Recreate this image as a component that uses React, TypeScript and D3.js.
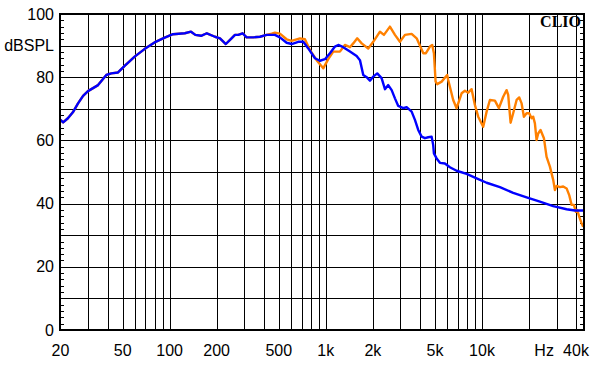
import React from "react";
import * as d3 from "d3";

const blueFreq = [20, 20.8, 22.3, 24, 25.9, 27.9, 30, 34.8, 39.3, 42.3, 46.7, 51.5, 59.7, 69, 80, 93, 105, 125, 137, 146, 159, 173, 195, 210, 229, 249, 262, 275, 293, 311, 343, 379, 418, 472, 508, 561, 604, 666, 717, 772, 852, 917, 987, 1063, 1144, 1201, 1293, 1427, 1575, 1654, 1737, 1826, 1917, 2012, 2134, 2276, 2391, 2510, 2640, 2771, 2909, 3131, 3292, 3544, 3721, 3906, 4106, 4312, 4526, 4759, 4871, 4922, 5123, 5378, 5788, 6230, 6877, 7972, 9236, 10704, 13022, 15840, 19306, 23480, 28580, 34820, 39360, 44460];
const blueDb = [66.5, 65.7, 67.0, 68.9, 71.7, 74.1, 75.6, 77.5, 80.7, 81.2, 81.5, 83.6, 86.5, 88.9, 91.0, 92.5, 93.6, 93.9, 94.4, 93.4, 93.1, 93.9, 92.8, 92.3, 90.5, 92.3, 93.4, 93.4, 93.9, 92.6, 92.6, 92.8, 93.4, 93.4, 92.6, 90.9, 90.5, 91.2, 91.2, 89.1, 86.0, 85.2, 85.7, 87.6, 89.7, 90.2, 89.5, 88.1, 86.7, 85.4, 80.7, 80.0, 78.9, 80.2, 81.2, 79.7, 76.2, 77.5, 75.9, 73.3, 70.9, 70.2, 70.5, 69.1, 66.5, 63.3, 61.2, 60.7, 61.0, 61.2, 58.5, 55.9, 54.3, 52.9, 52.7, 51.5, 50.4, 49.4, 48.0, 46.6, 45.2, 43.4, 42.0, 40.6, 39.2, 38.2, 37.8, 37.8];

const orangeFreq = [20, 20.8, 22.3, 24, 25.9, 27.9, 30, 34.8, 39.3, 42.3, 46.7, 51.5, 59.7, 69, 80, 93, 105, 125, 137, 146, 159, 173, 195, 210, 229, 249, 262, 275, 293, 311, 343, 379, 418, 450, 472, 508, 561, 604, 683, 735, 791, 873, 963, 1036, 1116, 1231, 1325, 1427, 1498, 1589, 1696, 1869, 2012, 2222, 2356, 2574, 2771, 2982, 3211, 3544, 3816, 4210, 4375, 4641, 4800, 4922, 5047, 5169, 5515, 5987, 6077, 6541, 6877, 7406, 7774, 8162, 8580, 9009, 9458, 10180, 10704, 11238, 12098, 12832, 13670, 14374, 14716, 15246, 15840, 16660, 17314, 17936, 18552, 19306, 20060, 20780, 21280, 21820, 22360, 22900, 23720, 24920, 25920, 27220, 28580, 29300, 30040, 31540, 33120, 34820, 36180, 37480, 38780, 39940, 40700, 41920, 43420, 44460];
const orangeDb = [66.5, 65.7, 67.0, 68.9, 71.7, 74.1, 75.6, 77.5, 80.7, 81.2, 81.5, 83.6, 86.5, 88.9, 91.0, 92.5, 93.6, 93.9, 94.4, 93.4, 93.1, 93.9, 92.8, 92.3, 90.5, 92.3, 93.4, 93.4, 93.9, 92.6, 92.6, 92.8, 93.4, 93.8, 94.1, 93.8, 92.0, 91.5, 92.3, 92.0, 88.6, 85.4, 82.8, 85.7, 88.1, 88.1, 90.2, 89.5, 90.7, 92.3, 90.7, 89.1, 91.2, 94.4, 93.4, 96.0, 93.4, 91.2, 93.4, 93.7, 92.3, 87.6, 87.6, 89.7, 90.2, 87.6, 78.6, 77.8, 78.6, 80.7, 79.1, 72.8, 70.2, 74.9, 75.7, 75.1, 76.2, 71.2, 67.5, 64.3, 69.1, 72.8, 72.6, 70.2, 73.8, 75.9, 74.4, 65.6, 68.6, 72.8, 73.6, 71.7, 67.5, 68.6, 68.6, 67.0, 67.5, 65.4, 60.1, 62.2, 63.3, 60.7, 54.8, 51.7, 47.5, 44.3, 45.6, 45.2, 45.4, 44.8, 42.7, 39.6, 39.6, 37.4, 38.0, 35.9, 33.8, 32.7];

const xTickValues = [20, 50, 100, 200, 500, 1000, 2000, 5000, 10000, 40000];
const xTickLabels = ["20", "50", "100", "200", "500", "1k", "2k", "5k", "10k", "40k"];
const xGridValues = [30, 40, 50, 60, 70, 80, 90, 100, 200, 300, 400, 500, 600, 700, 800, 900, 1000, 2000, 3000, 4000, 5000, 6000, 7000, 8000, 9000, 10000, 20000, 30000, 40000];
const yTickValues = [0, 20, 40, 60, 80, 100];
const yGridValues = [10, 20, 30, 40, 50, 60, 70, 80, 90];
const yMinorValues = d3.range(2, 100, 2);

const W = 595;
const H = 365;
const left = 60;
const right = 584;
const top = 14;
const bottom = 330;

const px = (v: number) => Math.round(v) + 0.5;

export default function App() {
  const x = d3.scaleLog().domain([20, 45000]).range([left + 0.5, right]);
  const y = d3.scaleLinear().domain([0, 100]).range([bottom, top]);

  const line = d3
    .line<[number, number]>()
    .x((d) => x(d[0]))
    .y((d) => y(d[1]));

  const blue = line(blueFreq.map((f, i) => [f, blueDb[i]] as [number, number])) || "";
  const orange = line(orangeFreq.map((f, i) => [f, orangeDb[i]] as [number, number])) || "";

  const font = "'Liberation Sans', Arial, sans-serif";

  return (
    <svg
      width={W}
      height={H}
      style={{ position: "absolute", left: 0, top: 0, background: "#fff" }}
    >
      <rect x={0} y={0} width={W} height={H} fill="#fff" />
      <g stroke="#000" strokeWidth={1}>
        {xGridValues.map((v) => (
          <line key={"gx" + v} x1={px(x(v))} x2={px(x(v))} y1={top} y2={bottom} />
        ))}
        {yGridValues.map((v) => (
          <line key={"gy" + v} x1={left} x2={right} y1={px(y(v))} y2={px(y(v))} />
        ))}
        {yMinorValues.map((v) => (
          <g key={"m" + v}>
            <line x1={left} x2={left + 4} y1={px(y(v))} y2={px(y(v))} />
            <line x1={right - 4} x2={right} y1={px(y(v))} y2={px(y(v))} />
          </g>
        ))}
      </g>
      <path d={orange} fill="none" stroke="#ff8000" strokeWidth={2.4} strokeLinejoin="round" />
      <path d={blue} fill="none" stroke="#0000ff" strokeWidth={2.4} strokeLinejoin="round" />
      <rect
        x={left}
        y={top}
        width={right - left}
        height={bottom - top}
        fill="none"
        stroke="#000"
        strokeWidth={2}
      />
      <g fontFamily={font} fontSize={16} fill="#000">
        {xTickValues.map((v, i) => (
          <text key={"xl" + v} x={x(v)} y={356} textAnchor="middle">
            {xTickLabels[i]}
          </text>
        ))}
        <text x={x(25000)} y={356} textAnchor="middle">Hz</text>
        {yTickValues.map((v) => (
          <text key={"yl" + v} x={54} y={y(v) + 5.5} textAnchor="end">
            {v}
          </text>
        ))}
        <text x={54} y={y(90) + 5.5} textAnchor="end">dBSPL</text>
      </g>
      <text
        x={581}
        y={27}
        textAnchor="end"
        fontFamily="'Liberation Serif', 'Times New Roman', serif"
        fontWeight="bold"
        fontSize={16}
        fill="#000"
      >
        CLIO
      </text>
    </svg>
  );
}
